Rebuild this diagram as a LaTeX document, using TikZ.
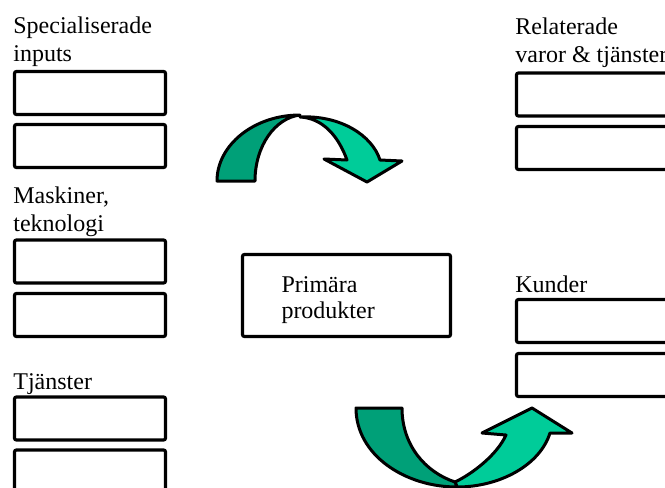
\documentclass[tikz,border=0pt]{standalone}
\usepackage{fontspec}
\setmainfont{Liberation Serif}
\usetikzlibrary{positioning}
\definecolor{pilmork}{HTML}{00A078}
\definecolor{pilljus}{HTML}{00CC99}
\tikzset{
    ruta/.style={draw, line width=1.6pt, rounded corners=1pt, minimum width=75.5pt, minimum height=21.5pt, inner sep=0pt},
    rubrik/.style={anchor=base west, inner sep=0pt, align=left, font=\fontsize{12}{14}\selectfont},
    pil/.style={draw=black, line width=1.5pt, line join=round}
}
\begin{document}
\begin{tikzpicture}[x=0.5pt, y=-0.5pt]
    \clip (0,0) rectangle (665,488);
    % vänster kolumn (base = sista raden)
    \node[rubrik] (spec) at (13,61) {Specialiserade\\inputs};
    \node[ruta] (spec1) at (90,93) {};
    \node[ruta] (spec2) at (90,146) {};
    \node[rubrik] (mask) at (13,231) {Maskiner,\\teknologi};
    \node[ruta] (mask1) at (90,261.5) {};
    \node[ruta] (mask2) at (90,315) {};
    \node[rubrik] (tjan) at (13,389) {Tjänster};
    \node[ruta] (tjan1) at (90,418.5) {};
    \node[ruta] (tjan2) at (90,471.5) {};

    % mitten
    \node[ruta, minimum width=104pt, minimum height=41pt, text width=65pt, inner xsep=19.5pt, align=left, font=\fontsize{12}{13}\selectfont] (prim) at (346.5,295.5) {\rule{0pt}{13pt}Primära\\produkter};

    % höger kolumn
    \node[rubrik] (rel) at (515,62) {Relaterade\\varor \& tjänster};
    \node[ruta] (rel1) at (592,94.5) {};
    \node[ruta] (rel2) at (592,148) {};
    \node[rubrik] (kund) at (515,292) {Kunder};
    \node[ruta] (kund1) at (592,321) {};
    \node[ruta] (kund2) at (592,375) {};

    % övre pilen
    \filldraw[pil, fill=pilljus] (300,117) .. controls (340,115) and (372,135) .. (380,160)
        -- (402,161) -- (367,182) -- (324,159) -- (347,160)
        .. controls (338,135) and (322,118) .. (300,117) -- cycle;
    \filldraw[pil, fill=pilmork] (217,181) .. controls (217,145) and (254,115) .. (300,115)
        .. controls (275,118) and (255,146) .. (255,181) -- cycle;

    % nedre pilen
    \filldraw[pil, fill=pilljus] (455,482) .. controls (472,474) and (497,455) .. (506,435)
        -- (482,433) -- (532,408) -- (572,433) -- (550,433)
        .. controls (540,465) and (500,487) .. (457,487) -- cycle;
    \filldraw[pil, fill=pilmork] (356,408) -- (402,408) .. controls (402,445) and (425,472) .. (455,482)
        -- (457,487) .. controls (405,487) and (356,455) .. (356,408) -- cycle;
\end{tikzpicture}
\end{document}
